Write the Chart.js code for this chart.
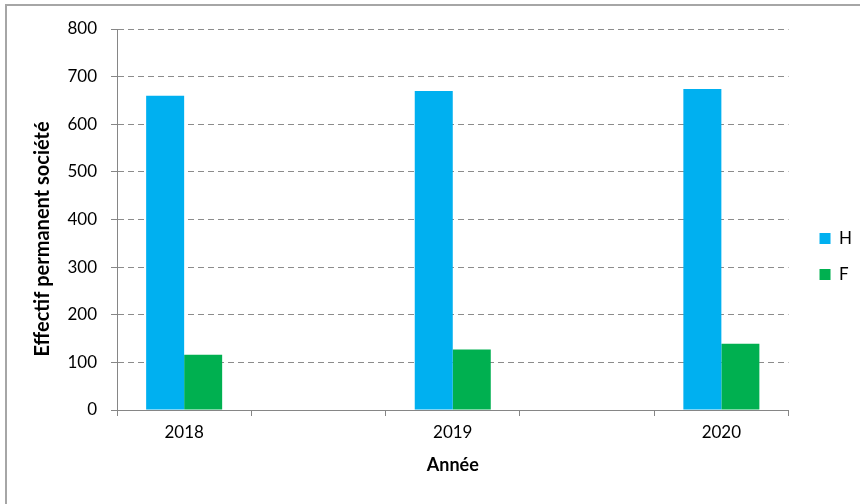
<!DOCTYPE html>
<html>
<head>
<meta charset="utf-8">
<script src="https://cdn.jsdelivr.net/npm/chart.js@4"></script>
<style>
  body { margin: 0; background: #fff; }
  #wrap { position: relative; width: 860px; height: 504px; }
  #frame { position: absolute; left: 5px; top: 4px; width: 900px; height: 600px;
           border-left: 2px solid #a6a6a6; border-top: 2px solid #a6a6a6; pointer-events: none; }
</style>
</head>
<body>
<div id="wrap">
  <canvas id="mychart" width="860" height="504"></canvas>
  <div id="frame"></div>
</div>
<script>
let years = ['2018', '', '2019', '', '2020'];
let hommes = [660, 1, 670, 1, 674];
let femmes = [116, 1, 127, 1, 139];
let yTicks = [0, 100, 200, 300, 400, 500, 600, 700, 800];

let ctx = document.getElementById('mychart').getContext('2d');
let font = 'Lato';

// move the legend a bit, Excel puts it further right and lower
let legendShift = {
  id: 'legendShift',
  afterLayout(chart) {
    chart.legend.top += 2;
    chart.legend.bottom += 2;
    chart.legend.left += 12;
    chart.legend.right += 12;
  }
};

let obj = new Chart(ctx, {
  type: 'bar',
  data: {
    labels: years,
    datasets: [
      { label: 'H', data: hommes, backgroundColor: '#00B0F0' },
      { label: 'F', data: femmes, backgroundColor: '#00B050' }
    ]
  },
  options: {
    responsive: false,
    animation: false,
    layout: { padding: { left: 31, top: 29, right: 10, bottom: 24 } },
    datasets: { bar: { categoryPercentage: 0.566, barPercentage: 1 } },
    plugins: {
      legend: {
        position: 'right',
        labels: {
          boxWidth: 11, boxHeight: 11, padding: 19,
          color: '#000', font: { family: font, size: 17 }
        }
      },
      tooltip: { enabled: false }
    },
    scales: {
      x: {
        grid: { drawOnChartArea: false, drawTicks: true, tickLength: 6, color: '#868686', offset: true },
        border: { color: '#868686', width: 1 },
        ticks: { color: '#000', font: { family: font, size: 17 }, padding: 6, maxRotation: 0 },
        title: { display: true, text: 'Année', color: '#000', font: { family: font, size: 18, weight: 'bold' }, padding: { top: 4 } },
        afterFit(s) { s.height = 70; }
      },
      y: {
        min: 0, max: 800,
        afterBuildTicks(s) { s.ticks = yTicks.map(v => ({ value: v })); },
        grid: { color: '#8c8c8c', tickLength: 6, tickColor: '#868686', tickBorderDash: [] },
        border: { color: '#868686', width: 1, dash: [6, 4] },
        ticks: { color: '#000', font: { family: font, size: 17 }, padding: 14 },
        title: { display: true, text: 'Effectif permanent société' + '\u00a0'.repeat(8), color: '#000', font: { family: font, size: 20, weight: 'bold' }, padding: { top: 0, bottom: 2 } },
        afterFit(s) { s.width = 86; }
      }
    }
  },
  plugins: [legendShift]
});
</script>
</body>
</html>
